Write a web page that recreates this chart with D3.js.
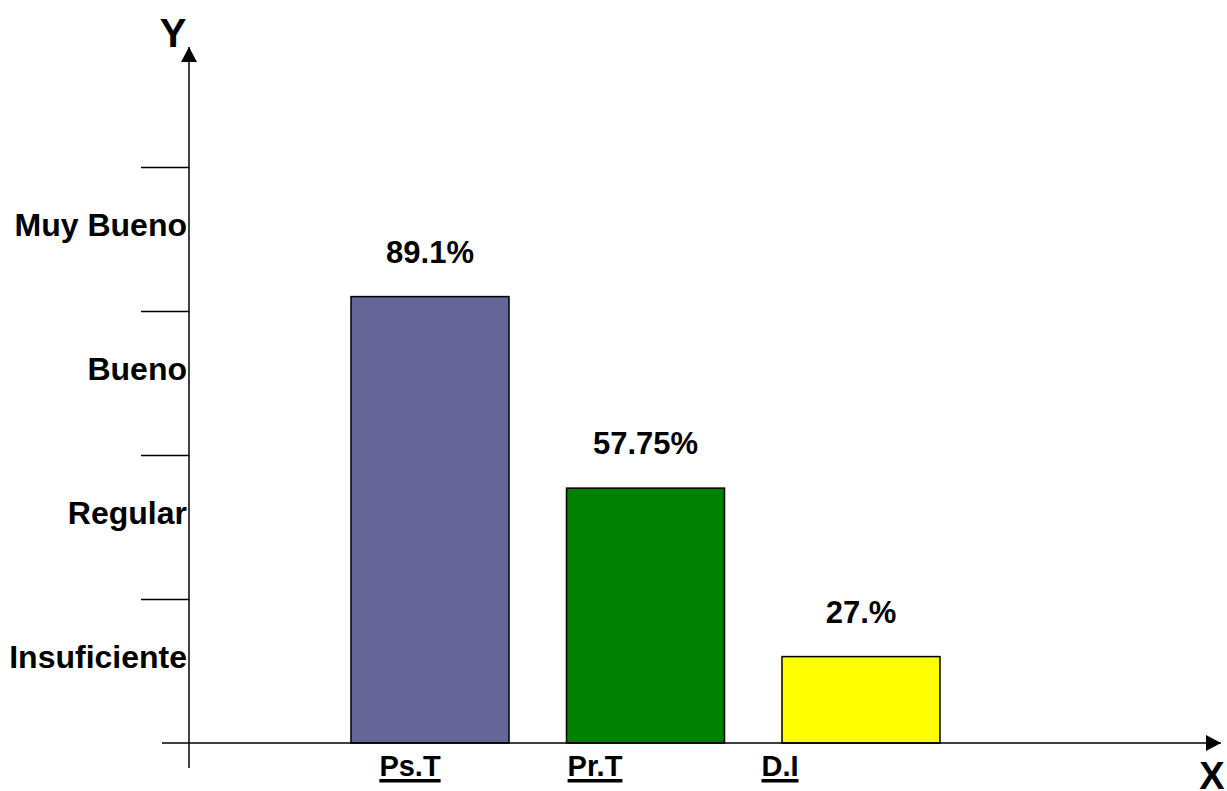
<!DOCTYPE html>
<html lang="es">
<head>
    <meta charset="UTF-8">
    <title>Chart</title>
    <script src="https://d3js.org/d3.v7.min.js"></script>
    <style>
        body { margin: 0; background: #fff; }
        text { font-family: "Liberation Sans", Arial, sans-serif; font-weight: bold; fill: #000; }
    </style>
</head>
<body>
    <div id="chart"></div>
    <script>
        // data
        var categories = ["Ps.T", "Pr.T", "D.I"];
        var scores = [3.1, 1.77, 0.6];            // bar heights on the grade scale
        var valueLabels = ["89.1%", "57.75%", "27.%"];
        var barColors = ["#666699", "#008000", "#ffff00"];
        var levels = ["Insuficiente", "Regular", "Bueno", "Muy Bueno"];
        var tickValues = [1, 2, 3, 4];

        var width = 1227, height = 791;
        var x0 = 189, y0 = 743;

        var svg = d3.select("#chart").append("svg")
            .attr("width", width)
            .attr("height", height);

        // grade scale: each level is one unit
        var y = d3.scaleLinear().domain([0, 4]).range([y0, 167]);

        // bar centres and label positions
        var x = d3.scalePoint().domain(categories).range([430, 861]);
        var xLab = d3.scalePoint().domain(categories).range([410, 780]);
        var barW = 158;

        // arrow marker
        svg.append("defs").append("marker")
            .attr("id", "arrow")
            .attr("viewBox", "0 0 15 16")
            .attr("refX", 15).attr("refY", 8)
            .attr("markerWidth", 15).attr("markerHeight", 16)
            .attr("markerUnits", "userSpaceOnUse")
            .attr("orient", "auto")
            .append("path")
            .attr("d", "M0,0L15,8L0,16Z")
            .attr("fill", "#000");

        // bars
        svg.append("g")
            .selectAll("rect")
            .data(categories)
            .enter()
            .append("rect")
            .attr("x", function(d) { return x(d) - barW / 2; })
            .attr("y", function(d, i) { return y(scores[i]); })
            .attr("width", barW)
            .attr("height", function(d, i) { return y0 - y(scores[i]); })
            .attr("fill", function(d, i) { return barColors[i]; })
            .attr("stroke", "#000")
            .attr("stroke-width", 1.5);

        // value labels
        svg.append("g")
            .selectAll("text")
            .data(categories)
            .enter()
            .append("text")
            .attr("x", function(d) { return x(d); })
            .attr("y", function(d, i) { return y(scores[i]) - 34; })
            .attr("text-anchor", "middle")
            .style("font-size", "31px")
            .text(function(d, i) { return valueLabels[i]; });

        // y ticks
        var yAxis = d3.axisLeft(y)
            .tickValues(tickValues)
            .tickSize(48)
            .tickFormat("");
        var gy = svg.append("g")
            .attr("transform", "translate(" + x0 + ",0)")
            .call(yAxis);
        gy.select(".domain").remove();
        gy.selectAll(".tick line").attr("stroke", "#000").attr("stroke-width", 1.5);

        // level names between ticks
        svg.append("g")
            .selectAll("text")
            .data(levels)
            .enter()
            .append("text")
            .attr("x", x0 - 2)
            .attr("y", function(d, i) { return y(i + 0.52); })
            .attr("text-anchor", "end")
            .style("font-size", "32px")
            .text(function(d) { return d; });

        // axes with arrows
        svg.append("line")
            .attr("x1", x0).attr("y1", 768)
            .attr("x2", x0).attr("y2", 47)
            .attr("stroke", "#000").attr("stroke-width", 1.5)
            .attr("marker-end", "url(#arrow)");
        svg.append("line")
            .attr("x1", 162).attr("y1", y0)
            .attr("x2", 1221).attr("y2", y0)
            .attr("stroke", "#000").attr("stroke-width", 1.5)
            .attr("marker-end", "url(#arrow)");

        // category labels, underlined with a thick bar
        var cat = svg.append("g")
            .selectAll("g")
            .data(categories)
            .enter()
            .append("g")
            .attr("transform", function(d) { return "translate(" + xLab(d) + ",776)"; });
        cat.append("text")
            .attr("text-anchor", "middle")
            .style("font-size", "29px")
            .text(function(d) { return d; });
        cat.each(function() {
            var g = d3.select(this);
            var w = g.select("text").node().getComputedTextLength();
            g.append("rect")
                .attr("x", -w / 2)
                .attr("y", 3)
                .attr("width", w)
                .attr("height", 3.5)
                .attr("fill", "#000");
        });

        // axis names
        svg.append("text")
            .attr("x", 173).attr("y", 47)
            .attr("text-anchor", "middle")
            .style("font-size", "40px")
            .text("Y");
        svg.append("text")
            .attr("x", 1212).attr("y", 789)
            .attr("text-anchor", "middle")
            .style("font-size", "38px")
            .text("X");
    </script>
</body>
</html>
